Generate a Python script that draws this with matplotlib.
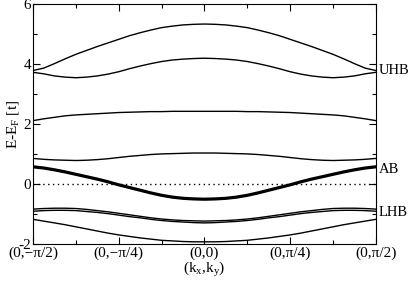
import numpy as np
import matplotlib
matplotlib.use("Agg")
import matplotlib.pyplot as plt
from matplotlib.ticker import MultipleLocator

plt.rcParams['font.family'] = ['Liberation Serif', 'DejaVu Serif']
plt.rcParams['mathtext.fontset'] = 'custom'
plt.rcParams['mathtext.rm'] = 'Liberation Serif'
plt.rcParams['mathtext.it'] = 'Liberation Serif:italic'
plt.rcParams['axes.unicode_minus'] = False

# k positions: from (0,-pi/2) to (0,pi/2) in steps of pi/32 (index 0..32)
k_steps = list(range(33))

# half-band values (from edge to centre); bands are symmetric about (0,0)
uhb_top_half = [3.79, 3.87, 4.02, 4.18, 4.33, 4.46, 4.59, 4.71, 4.83,
                4.95, 5.05, 5.14, 5.22, 5.27, 5.31, 5.33, 5.34]
uhb_low_half = [3.73, 3.68, 3.61, 3.57, 3.55, 3.57, 3.61, 3.67, 3.75,
                3.85, 3.94, 4.02, 4.09, 4.14, 4.17, 4.19, 4.20]
band_2_half = [2.12, 2.18, 2.23, 2.28, 2.31, 2.33, 2.35, 2.37, 2.39,
               2.40, 2.41, 2.42, 2.42, 2.43, 2.43, 2.43, 2.43]
band_1_half = [0.86, 0.83, 0.81, 0.80, 0.79, 0.80, 0.82, 0.85, 0.89,
               0.93, 0.96, 0.99, 1.01, 1.02, 1.03, 1.04, 1.04]
ab_half = [0.58, 0.54, 0.48, 0.41, 0.33, 0.25, 0.17, 0.08, -0.02,
           -0.11, -0.20, -0.29, -0.37, -0.43, -0.47, -0.49, -0.50]
lhb_a_half = [-0.83, -0.81, -0.80, -0.80, -0.81, -0.84, -0.88, -0.92, -0.97,
              -1.02, -1.07, -1.12, -1.16, -1.19, -1.21, -1.22, -1.23]
lhb_b_half = [-0.90, -0.88, -0.87, -0.87, -0.88, -0.91, -0.94, -0.98, -1.03,
              -1.08, -1.12, -1.17, -1.21, -1.24, -1.26, -1.28, -1.29]
lhb_c_half = [-1.17, -1.23, -1.29, -1.35, -1.42, -1.49, -1.56, -1.63, -1.69,
              -1.74, -1.79, -1.83, -1.87, -1.89, -1.91, -1.92, -1.92]

xtick_labels = ['(0,\u2212\u03c0/2)', '(0,\u2212\u03c0/4)', '(0,0)', '(0,\u03c0/4)', '(0,\u03c0/2)']
band_labels = [('UHB', 3.78), ('AB', 0.5), ('LHB', -0.95)]


def full(half):
    return half + half[-2::-1]


fig = plt.figure(figsize=(4.09, 2.82), dpi=100)
ax = fig.add_axes([0.0807, 0.134, 0.919 - 0.0807, 0.985 - 0.134])

thin = dict(color='black', lw=1.0)
for h in [uhb_top_half, uhb_low_half, band_2_half, band_1_half,
          lhb_a_half, lhb_b_half, lhb_c_half]:
    ax.plot(k_steps, full(h), **thin)
ax.plot(k_steps, full(ab_half), color='black', lw=2.3)
ax.axhline(0, color='black', lw=1.0, ls=(0, (1, 2.5)))

ax.set_xlim(0, 32)
ax.set_ylim(-2, 6)
ax.set_xticks([0, 8, 16, 24, 32])
ax.set_xticklabels(xtick_labels)
ax.xaxis.set_minor_locator(MultipleLocator(4))
ax.yaxis.set_major_locator(MultipleLocator(2))
ax.yaxis.set_minor_locator(MultipleLocator(1))
ax.tick_params(which='both', direction='in', top=True, right=True,
               labelsize=11, width=0.8)
ax.tick_params(axis='x', which='major', pad=2)
ax.tick_params(axis='y', which='major', pad=1.5)
ax.tick_params(which='major', length=5)
ax.tick_params(which='minor', length=3)
for s in ax.spines.values():
    s.set_linewidth(0.8)

ax.set_xlabel('(k$_\\mathrm{x}$,k$_\\mathrm{y}$)', fontsize=11, labelpad=0)
ax.set_ylabel('E-E$_\\mathrm{F}$ [t]', fontsize=11)
ax.yaxis.set_label_coords(-0.035, 0.5)

for txt, y in band_labels:
    ax.text(32.25, y, txt, fontsize=10.5, va='center', ha='left')

fig.savefig('out.png', dpi=100)
